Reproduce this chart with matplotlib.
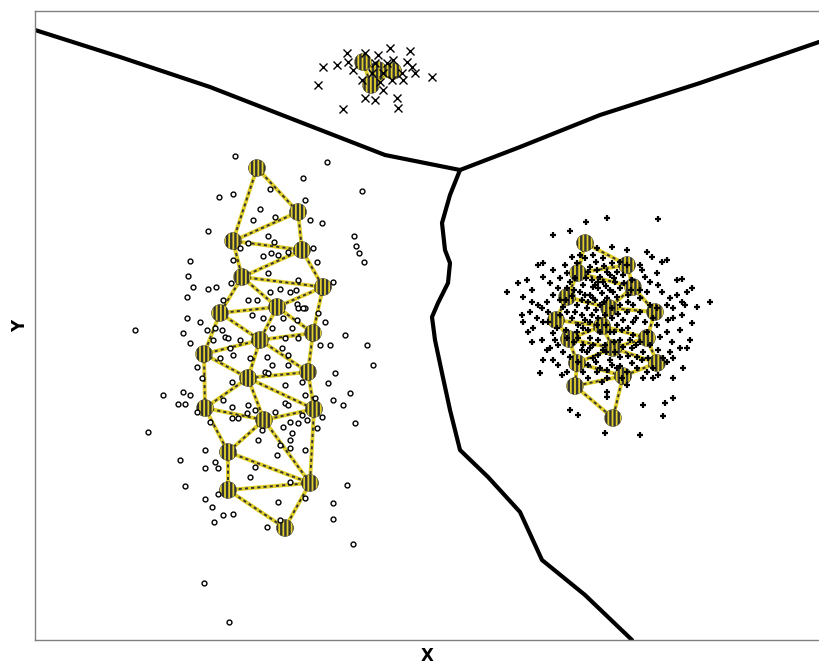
import matplotlib

matplotlib.use("Agg")
import matplotlib.pyplot as plt
import numpy as np

# chart units: x to the right, y downward
left_pts = [
    (235, 156), (327, 162), (303, 178), (270, 189), (219, 197), (233, 194), (362, 191), (305, 200),
    (260, 209), (275, 217), (253, 220), (310, 220), (322, 223), (208, 231), (354, 236), (268, 236),
    (274, 242), (248, 243), (356, 246), (359, 253), (364, 262), (190, 261), (240, 248), (263, 256),
    (271, 253), (278, 255), (288, 252), (313, 248), (317, 262), (233, 260), (188, 276), (193, 287),
    (208, 289), (216, 287), (187, 297), (231, 283), (268, 273), (298, 280), (333, 282), (270, 292),
    (280, 289), (290, 292), (296, 290), (248, 300), (257, 300), (297, 304), (305, 308), (318, 313),
    (223, 300), (187, 318), (200, 322), (135, 330), (183, 333), (207, 330), (215, 328), (222, 330),
    (225, 337), (228, 338), (190, 343), (213, 340), (230, 348), (240, 340), (252, 315), (263, 318),
    (283, 318), (298, 308), (303, 308), (297, 320), (292, 328), (272, 328), (285, 338), (298, 338),
    (282, 348), (288, 355), (267, 357), (272, 365), (288, 365), (325, 322), (345, 335), (320, 345),
    (330, 345), (367, 345), (373, 365), (197, 367), (220, 358), (233, 355), (250, 358), (265, 372),
    (268, 373), (302, 382), (328, 383), (335, 373), (285, 385), (305, 395), (315, 398), (232, 382),
    (202, 378), (183, 392), (190, 395), (163, 395), (178, 404), (185, 404), (223, 400), (232, 407),
    (248, 405), (255, 410), (232, 418), (238, 418), (247, 413), (275, 412), (285, 403), (288, 405),
    (302, 415), (307, 420), (290, 422), (298, 423), (283, 427), (292, 433), (262, 430), (258, 440),
    (280, 445), (290, 448), (290, 440), (305, 450), (277, 455), (317, 428), (333, 400), (343, 405),
    (350, 393), (355, 423), (197, 412), (210, 422), (148, 432), (205, 450), (180, 460), (215, 462),
    (205, 468), (218, 468), (255, 467), (322, 417), (185, 486), (250, 477), (290, 482), (205, 499),
    (218, 494), (212, 507), (223, 515), (233, 514), (214, 522), (267, 527), (278, 502), (280, 520),
    (305, 498), (347, 485), (333, 503), (333, 519), (353, 544), (204, 583), (229, 622),
]

right_pts = [
    (607, 218), (658, 219), (586, 222), (553, 235), (570, 231), (507, 292), (518, 283), (527, 280),
    (532, 290), (523, 297), (538, 265), (543, 263), (543, 277), (553, 270), (597, 248), (612, 247),
    (603, 258), (572, 257), (580, 255), (627, 250), (652, 257), (662, 262), (667, 260), (642, 270),
    (645, 277), (657, 273), (677, 280), (682, 279), (692, 288), (710, 302), (685, 305), (697, 307),
    (673, 318), (682, 315), (668, 320), (692, 323), (680, 330), (667, 332), (660, 337), (672, 342),
    (690, 340), (670, 352), (667, 362), (683, 368), (658, 375), (673, 378), (643, 405), (665, 403),
    (673, 398), (663, 416), (640, 435), (605, 433), (578, 415), (570, 410), (540, 373), (562, 375),
    (553, 360), (543, 360), (550, 348), (558, 345), (542, 340), (532, 342), (522, 315), (530, 312),
    (523, 322), (533, 328), (543, 322), (538, 305), (547, 302), (553, 295), (558, 288), (550, 283),
    (560, 278), (567, 273), (565, 265), (577, 263), (590, 267), (588, 272), (597, 270), (595, 285),
    (593, 287), (598, 288), (602, 293), (583, 285), (580, 292), (582, 300), (577, 305), (587, 308),
    (592, 315), (585, 320), (578, 325), (572, 318), (567, 312), (560, 315), (563, 307), (600, 305),
    (607, 298), (613, 292), (617, 297), (620, 288), (615, 282), (610, 275), (607, 272), (617, 272),
    (623, 275), (632, 280), (640, 290), (647, 292), (640, 298), (633, 305), (627, 312), (623, 320),
    (628, 328), (633, 335), (640, 342), (643, 352), (637, 357), (632, 363), (637, 368), (627, 372),
    (617, 368), (607, 370), (600, 368), (610, 360), (615, 352), (623, 347), (603, 350), (593, 345),
    (587, 352), (583, 345), (578, 338), (567, 338), (563, 352), (570, 357), (578, 362), (583, 372),
    (588, 378), (607, 378), (602, 382), (607, 392), (607, 397), (627, 385), (610, 332), (600, 332),
    (617, 325), (597, 325), (588, 330), (577, 332), (633, 322), (640, 312), (650, 305), (653, 318),
    (657, 325), (647, 332), (658, 350), (648, 358), (653, 368), (632, 348), (593, 298), (590, 295),
    (603, 282), (627, 265), (620, 262), (593, 255), (585, 258), (647, 252), (640, 265), (650, 282),
    (662, 292), (670, 298), (667, 305), (677, 295), (687, 292), (673, 308), (682, 302), (657, 308),
    (658, 285), (567, 288), (570, 282), (575, 278), (542, 308), (532, 302), (537, 318), (553, 333),
    (557, 328), (548, 322), (528, 332), (547, 350), (558, 365), (567, 372), (593, 358), (597, 372),
    (620, 357), (622, 378), (643, 378), (647, 372), (653, 378), (663, 358), (673, 358), (680, 348),
    (687, 348), (595, 300), (605, 315), (612, 318), (598, 340), (590, 338), (620, 340), (585, 295),
    (610, 290), (600, 277), (592, 280), (620, 305), (628, 295), (575, 312), (583, 328), (605, 345),
    (596, 262), (604, 266), (612, 263), (586, 278), (598, 282), (606, 286), (614, 278), (624, 283),
    (631, 290), (574, 290), (566, 300), (572, 296), (588, 302), (596, 310), (604, 302), (612, 308),
    (618, 314), (628, 302), (636, 318), (645, 322), (582, 315), (590, 322), (598, 318), (606, 325),
    (614, 332), (622, 330), (630, 340), (574, 342), (582, 350), (590, 348), (598, 355), (606, 352),
    (614, 342), (628, 356), (636, 345), (560, 300), (548, 312), (555, 340), (566, 330), (588, 365),
    (596, 362), (612, 365), (620, 366), (642, 360), (650, 345),
]

top_pts = [
    (323, 67), (337, 65), (347, 53), (348, 62), (318, 85), (365, 53), (378, 55), (390, 48),
    (410, 51), (407, 62), (415, 73), (432, 77), (403, 80), (397, 98), (398, 108), (375, 100),
    (365, 98), (343, 109), (383, 90), (387, 63), (402, 73), (392, 80), (380, 82), (372, 73),
    (353, 70), (362, 80), (383, 73), (375, 63), (393, 60), (412, 67),
]

# map units (trained prototypes)
left_nodes = [
    (257, 168), (298, 212), (233, 241), (302, 250), (242, 277), (323, 287), (277, 307),
    (220, 313), (313, 333), (260, 340), (204, 354), (308, 372), (248, 378), (205, 408),
    (314, 409), (264, 420), (228, 452), (310, 483), (228, 490), (285, 528),
]
left_links = [
    (0, 1), (0, 2), (1, 2), (1, 3), (2, 3), (2, 4), (3, 4), (3, 5), (4, 5), (4, 6), (5, 6),
    (4, 7), (6, 7), (5, 8), (6, 8), (6, 9), (7, 9), (7, 10), (8, 9), (9, 10), (8, 11),
    (9, 11), (9, 12), (10, 12), (11, 12), (10, 13), (12, 13), (11, 14), (12, 14), (12, 15),
    (13, 15), (14, 15), (13, 16), (15, 16), (14, 17), (15, 17), (16, 17), (16, 18), (17, 18),
    (18, 19), (17, 19),
]

right_nodes = [
    (585, 243), (627, 265), (578, 273), (633, 287), (567, 297), (609, 308), (655, 312),
    (556, 320), (602, 326), (647, 338), (569, 339), (613, 348), (577, 363), (657, 363),
    (623, 376), (575, 386), (613, 418),
]
right_links = [
    (0, 1), (0, 2), (1, 2), (1, 3), (2, 3), (2, 4), (3, 5), (4, 5), (3, 6), (5, 6),
    (4, 7), (5, 8), (7, 8), (6, 9), (8, 9), (7, 10), (8, 10), (9, 11), (10, 11), (8, 11),
    (10, 12), (11, 12), (9, 13), (11, 13), (12, 14), (13, 14), (12, 15), (14, 15), (14, 16),
    (15, 16),
]

top_nodes = [(363, 62), (378, 70), (393, 71), (371, 85)]
top_links = [(0, 1), (1, 2), (0, 3), (1, 3), (2, 3)]

# decision boundaries between the three clusters
bound_left_x = [35, 120, 210, 300, 385, 460]
bound_left_y = [30, 57, 87, 122, 155, 170]
bound_right_x = [460, 520, 600, 700, 819]
bound_right_y = [170, 147, 115, 83, 42]
bound_down_x = [460, 450, 442, 445, 450, 448, 438, 432, 435, 442, 450, 460, 488, 520, 542, 585, 632]
bound_down_y = [170, 195, 223, 250, 263, 283, 303, 317, 340, 373, 410, 450, 477, 512, 560, 595, 640]

YELLOW = "#e2d02a"
DARK = "#333333"

plt.rcParams["hatch.color"] = DARK
plt.rcParams["hatch.linewidth"] = 1.7

fig = plt.figure(figsize=(8.19, 6.64), dpi=100)
ax = fig.add_axes([35 / 819, 24 / 664, 784 / 819, 629 / 664])
ax.set_xlim(35, 819)
ax.set_ylim(640, 11)

for xs, ys in [(bound_left_x, bound_left_y), (bound_right_x, bound_right_y), (bound_down_x, bound_down_y)]:
    ax.plot(xs, ys, color="black", lw=3.0, solid_capstyle="round", solid_joinstyle="round", zorder=2)


def draw_map(nodes, links):
    nodes = np.asarray(nodes, dtype=float)
    for i, j in links:
        xs = [nodes[i, 0], nodes[j, 0]]
        ys = [nodes[i, 1], nodes[j, 1]]
        ax.plot(xs, ys, color=YELLOW, lw=2.8, solid_capstyle="butt", zorder=3)
        ax.plot(xs, ys, color=DARK, lw=1.4, dashes=(1.6, 1.6), zorder=3.1)
    ax.scatter(nodes[:, 0], nodes[:, 1], s=150, facecolor=YELLOW, edgecolor=DARK,
               linewidth=0.3, hatch="||||", zorder=4)


draw_map(left_nodes, left_links)
draw_map(right_nodes, right_links)
draw_map(top_nodes, top_links)

lp = np.asarray(left_pts, dtype=float)
rp = np.asarray(right_pts, dtype=float)
tp = np.asarray(top_pts, dtype=float)
ax.plot(lp[:, 0], lp[:, 1], "o", ms=3.5, mfc="white", mec="black", mew=1.0, ls="none", zorder=5)
ax.plot(rp[:, 0], rp[:, 1], "+", ms=3.8, color="black", mew=1.6, ls="none", zorder=5)
ax.plot(tp[:, 0], tp[:, 1], "x", ms=5.5, color="black", mew=1.0, ls="none", zorder=5)

ax.set_xticks([])
ax.set_yticks([])
for side in ["left", "top", "bottom"]:
    ax.spines[side].set_color("#808080")
    ax.spines[side].set_linewidth(1.0)
ax.spines["right"].set_visible(False)
ax.set_xlabel("X", fontsize=12, fontweight="bold", labelpad=5)
ax.set_ylabel("Y", fontsize=12, fontweight="bold", labelpad=4)

fig.savefig("out.png", dpi=100)
